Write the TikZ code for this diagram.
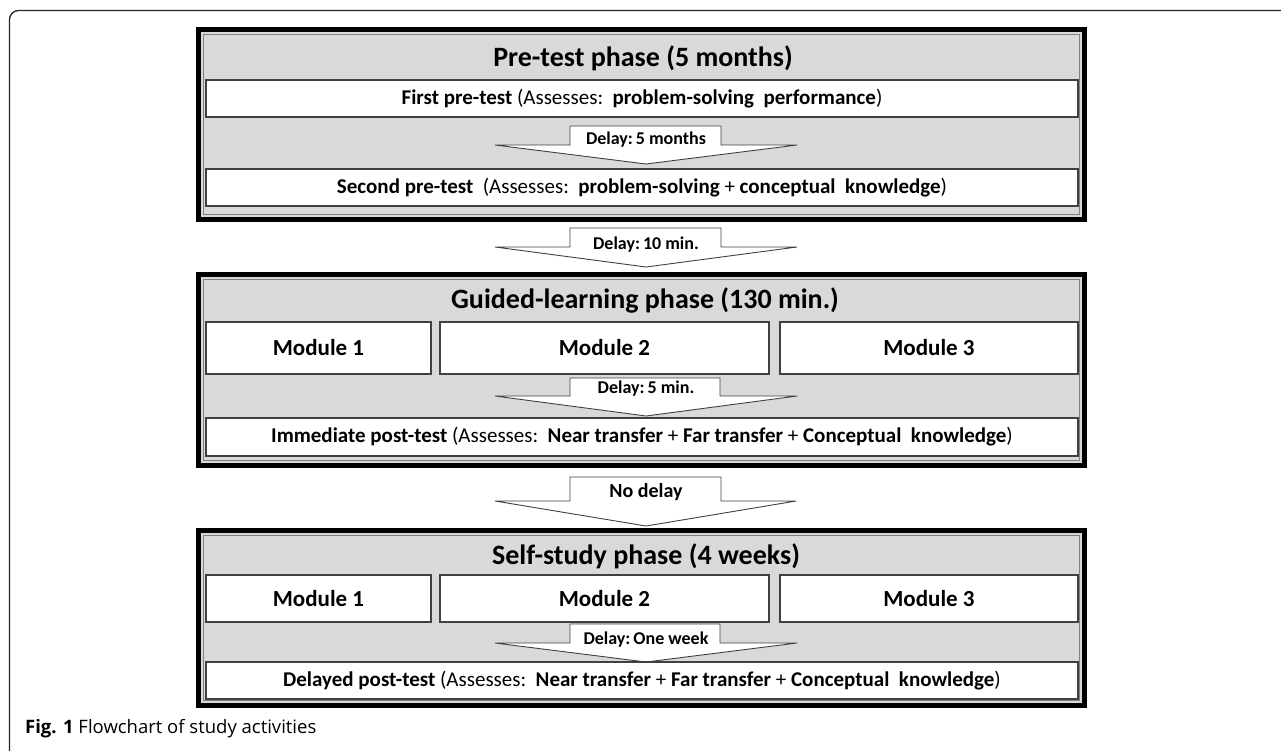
\documentclass[tikz,border=0pt]{standalone}
\usepackage{fontspec}
\setmainfont{Carlito}
\newfontfamily\capfont{Open Sans}
\usepackage{xcolor}
\usepackage{tikz}
\usetikzlibrary{positioning}
\definecolor{phasegray}{HTML}{D9D9D9}
\definecolor{edgegray}{HTML}{404040}

\begin{document}
\begin{tikzpicture}[
    x=1pt, y=-1pt,
    phase/.style={draw=black, line width=5pt, fill=phasegray, minimum width=886pt, inner sep=0pt, outer sep=0pt},
    innerline/.style={draw=gray, line width=0.8pt},
    phasetitle/.style={font=\fontsize{28}{32}\selectfont\bfseries, inner sep=0pt},
    testbox/.style={draw=edgegray, line width=1.2pt, fill=white, minimum width=872pt, minimum height=37pt, inner sep=0pt, font=\fontsize{21}{24}\selectfont},
    modbox/.style={draw=edgegray, line width=1.2pt, fill=white, inner sep=0pt, font=\fontsize{23}{27}\selectfont\bfseries},
    delay/.style={draw=edgegray, line width=0.9pt, fill=white, line join=miter},
    delaytxt/.style={font=\fontsize{18}{21}\selectfont\bfseries, inner sep=1pt}
]
    \useasboundingbox (0,0) rectangle (1281,750);
    % Frame
    \draw[line width=1.3pt, draw=black!85, rounded corners=9pt] (9.5,760) -- (9.5,10.5) -- (1290,10.5);

    % Pre-test phase
    \node[phase, minimum height=190pt] (pre) at (641.5,124.5) {};
    \draw[innerline] ([shift={(5,5)}]pre.north west) rectangle ([shift={(-5,-5)}]pre.south east);
    \node[phasetitle] (preT) at (643,58) {Pre-test phase (5 months)};
    \node[testbox] (pre1) at (642,98.5) {\textbf{First pre-test} (Assesses:\ \ \textbf{problem-solving\ \ performance})};
    \draw[delay] (570,126) -- (721,126) -- (721,145) -- (797,145) -- (646,164) -- (495,145) -- (570,145) -- cycle;
    \node[delaytxt] (d1) at (646,140) {Delay:\,5 months};
    \node[testbox] (pre2) at (642,187.5) {\textbf{Second pre-test}\ \ (Assesses:\ \ \textbf{problem-solving} + \textbf{conceptual\ \ knowledge})};

    % Between phases
    \draw[delay] (570,228) -- (721,228) -- (721,247) -- (797,247) -- (646,267) -- (495,247) -- (570,247) -- cycle;
    \node[delaytxt] (d2) at (646,245) {Delay:\,10 min.};

    % Guided-learning phase
    \node[phase, minimum height=191pt] (gui) at (641.5,370) {};
    \draw[innerline] ([shift={(5,5)}]gui.north west) rectangle ([shift={(-5,-5)}]gui.south east);
    \node[phasetitle] (guiT) at (645,300) {Guided-learning phase (130 min.)};
    \node[modbox, minimum width=225pt, minimum height=52pt] (gm1) at (318.5,348) {Module 1};
    \node[modbox, minimum width=329pt, minimum height=52pt] (gm2) at (604.5,348) {Module 2};
    \node[modbox, minimum width=298pt, minimum height=52pt] (gm3) at (929,348) {Module 3};
    \draw[delay] (570,378) -- (720,378) -- (720,396) -- (797,396) -- (646,416) -- (495,396) -- (570,396) -- cycle;
    \node[delaytxt] (d3) at (646,389) {Delay:\,5 min.};
    \node[testbox, minimum height=38pt] (post1) at (642,437) {\textbf{Immediate post-test} (Assesses:\ \ \textbf{Near transfer} + \textbf{Far transfer} + \textbf{Conceptual\ \ knowledge})};

    % Between phases
    \draw[delay] (570,477) -- (721,477) -- (721,501) -- (796,501) -- (646,526) -- (495,501) -- (570,501) -- cycle;
    \node[delaytxt, font=\fontsize{20}{23}\selectfont\bfseries] (d4) at (646,492) {No delay};

    % Self-study phase
    \node[phase, minimum height=175pt] (self) at (641.5,618) {};
    \draw[innerline] ([shift={(5,5)}]self.north west) rectangle ([shift={(-5,-5)}]self.south east);
    \node[phasetitle] (selfT) at (646,556) {Self-study phase (4 weeks)};
    \node[modbox, minimum width=225pt, minimum height=47pt] (sm1) at (318.5,598.5) {Module 1};
    \node[modbox, minimum width=329pt, minimum height=47pt] (sm2) at (604.5,598.5) {Module 2};
    \node[modbox, minimum width=298pt, minimum height=47pt] (sm3) at (929,598.5) {Module 3};
    \draw[delay] (570,624) -- (720,624) -- (720,643) -- (797,643) -- (646,662) -- (495,643) -- (570,643) -- cycle;
    \node[delaytxt] (d5) at (646,640) {Delay:\,One week};
    \node[testbox] (post2) at (642,680.5) {\textbf{Delayed post-test} (Assesses:\ \ \textbf{Near transfer} + \textbf{Far transfer} + \textbf{Conceptual\ \ knowledge})};

    % Caption
    \node[anchor=west, inner sep=0pt, font=\capfont\fontsize{18.5}{22}\selectfont] (cap) at (25,729) {\textbf{Fig. 1} Flowchart of study activities};
\end{tikzpicture}
\end{document}
